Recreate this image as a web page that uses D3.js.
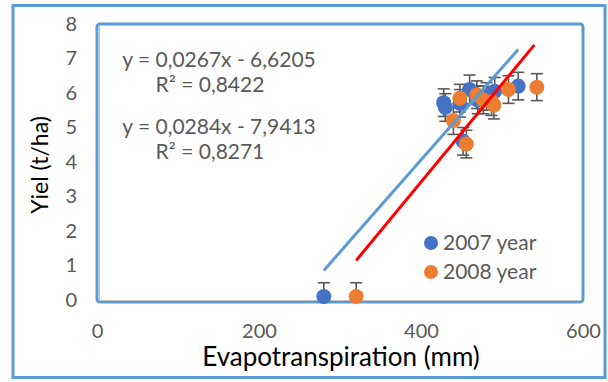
<!DOCTYPE html>
<html><head><meta charset="utf-8">
<script src="https://cdn.jsdelivr.net/npm/d3@7/dist/d3.min.js"></script>
<style>body{margin:0;background:#fff}svg{display:block}text{font-family:Lato,"Open Sans",sans-serif;font-weight:400}</style>
</head><body><svg id="c" width="608" height="382"></svg>
<script>
// Data
const et2007 = [280, 428, 430, 452, 448, 460, 470, 481, 491, 520];
const y2007  = [0.1, 5.72, 5.58, 4.6, 5.7, 6.1, 5.8, 5.9, 6.05, 6.2];
const err2007 = [0.4, 0.4, 0.4, 0.4, 0.4, 0.42, 0.4, 0.4, 0.4, 0.4];
const et2008 = [320, 440, 448, 456, 469, 477, 487, 490, 508, 543];
const y2008  = [0.1, 5.2, 5.85, 4.52, 5.95, 5.8, 5.75, 5.65, 6.1, 6.17];
const err2008 = [0.4, 0.4, 0.4, 0.4, 0.4, 0.4, 0.4, 0.4, 0.4, 0.39];
const xTicks = [0, 200, 400, 600];
const yTicks = [0, 1, 2, 3, 4, 5, 6, 7, 8];
const trend2007 = {slope: 0.0267, intercept: -6.6205, from: 280, to: 520};
const trend2008 = {slope: 0.0284, intercept: -7.9413, from: 320, to: 540};
const eqTexts = ["y = 0,0267x - 6,6205", "R² = 0,8422", "y = 0,0284x - 7,9413", "R² = 0,8271"];
const seriesNames = ["2007 year", "2008 year"];

const svg = d3.select("#c");
const x = d3.scaleLinear().domain([0, 600]).range([97, 583]);
const y = d3.scaleLinear().domain([0, 8]).range([300, 24]);

svg.append("rect").attr("x",0).attr("y",0).attr("width",608).attr("height",382).attr("fill","#fff");
svg.append("defs").append("clipPath").attr("id","pa").append("rect")
  .attr("x",97).attr("y",20).attr("width",490).attr("height",281);
// outer frame
svg.append("rect").attr("x",13).attr("y",5.5).attr("width",592).attr("height",372)
  .attr("fill","none").attr("stroke","#5b9bd5").attr("stroke-width",3);
// plot area frame
svg.append("rect").attr("x",97).attr("y",24).attr("width",486).attr("height",278).attr("rx",3)
  .attr("fill","none").attr("stroke","#5b9bd5").attr("stroke-width",3);
svg.append("line").attr("x1",99).attr("x2",581).attr("y1",300.5).attr("y2",300.5).attr("stroke","#bfbfbf").attr("stroke-width",1);
svg.append("line").attr("x1",99.5).attr("x2",99.5).attr("y1",26).attr("y2",300).attr("stroke","#bfbfbf").attr("stroke-width",1);

// axes
const xAxis = svg.append("g").attr("transform","translate(0,302)")
  .call(d3.axisBottom(x).tickValues(xTicks).tickSize(0).tickPadding(22).tickFormat(d3.format("d")));
xAxis.select(".domain").remove();
xAxis.selectAll("text").attr("fill","#595959").style("font-size","20px");
const yAxis = svg.append("g").attr("transform","translate(97,0)")
  .call(d3.axisLeft(y).tickValues(yTicks).tickSize(0).tickPadding(20));
yAxis.select(".domain").remove();
yAxis.selectAll("text").attr("fill","#595959").style("font-size","20px");

svg.append("text").attr("x",341).attr("y",366).attr("text-anchor","middle")
  .style("font-size","26px").attr("fill","#000").text("Evapotranspiration (mm)");
svg.append("text").attr("transform","translate(48,165) rotate(-90)").attr("text-anchor","middle")
  .style("font-size","23px").attr("fill","#000").text("Yiel (t/ha)");

const marks = svg.append("g").attr("clip-path","url(#pa)");
// error bars
function errBars(xs, ys, es){
  const g = marks.append("g").attr("stroke","#595959").attr("stroke-width",1.6);
  xs.forEach((v,i)=>{
    const cx = x(v), t = y(ys[i]+es[i]), b = y(ys[i]-es[i]);
    g.append("line").attr("x1",cx).attr("x2",cx).attr("y1",t).attr("y2",b);
    g.append("line").attr("x1",cx-6).attr("x2",cx+6).attr("y1",t).attr("y2",t);
    g.append("line").attr("x1",cx-6).attr("x2",cx+6).attr("y1",b).attr("y2",b);
  });
}
function dots(xs, ys, color){
  svg.append("g").selectAll("circle").data(xs).join("circle")
    .attr("cx",d=>x(d)).attr("cy",(d,i)=>y(ys[i])).attr("r",7.5).attr("fill",color);
}
errBars(et2007, y2007, err2007);
dots(et2007, y2007, "#4472c4");
errBars(et2008, y2008, err2008);
dots(et2008, y2008, "#ed7d31");

// trendlines
function trend(t, color){
  svg.append("line").attr("x1",x(t.from)).attr("y1",y(t.slope*t.from+t.intercept))
    .attr("x2",x(t.to)).attr("y2",y(t.slope*t.to+t.intercept))
    .attr("stroke",color).attr("stroke-width",3);
}
trend(trend2007, "#5b9bd5");
trend(trend2008, "#ff0000");

// equations
const eqPos = [[219,67],[210,92],[219,134],[210,159]];
eqTexts.forEach((t,i)=>{
  svg.append("text").attr("x",eqPos[i][0]).attr("y",eqPos[i][1]).attr("text-anchor","middle")
    .style("font-size","21px").attr("fill","#595959").text(t);
});

// legend
const legColors = ["#4472c4","#ed7d31"];
seriesNames.forEach((n,i)=>{
  const ly = 243 + i*29;
  svg.append("circle").attr("cx",431).attr("cy",ly).attr("r",7).attr("fill",legColors[i]);
  svg.append("text").attr("x",443).attr("y",ly+7).style("font-size","21px").attr("fill","#595959").text(n);
});
</script></body></html>
